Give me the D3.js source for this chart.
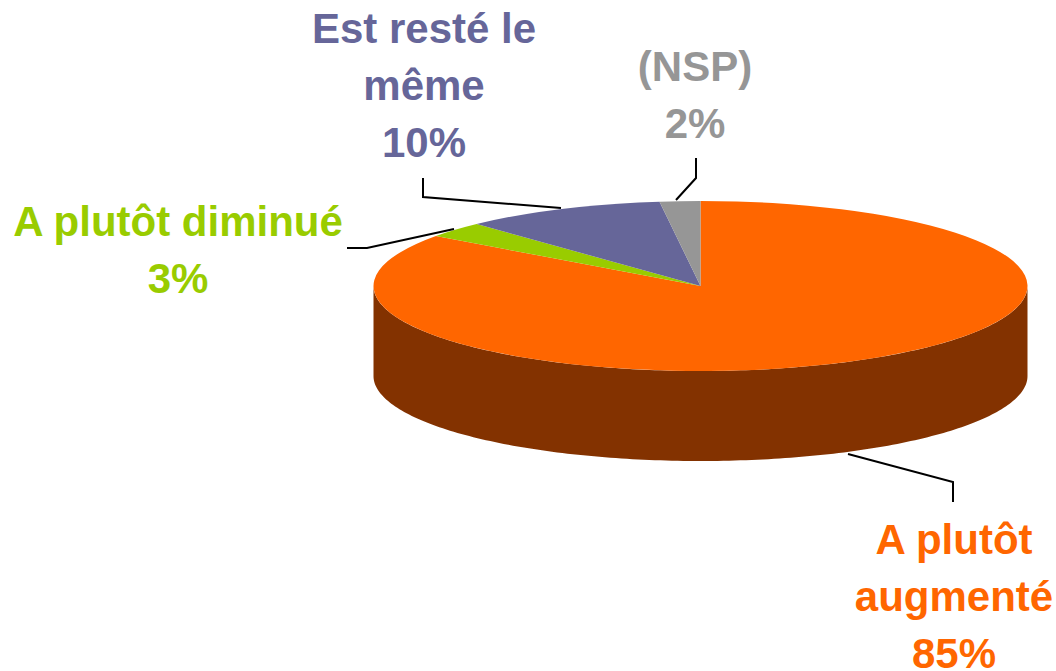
<!DOCTYPE html>
<html><head><meta charset="utf-8">
<script src="https://cdn.jsdelivr.net/npm/d3@7/dist/d3.min.js"></script>
<style>html,body{margin:0;background:#fff}svg{display:block}text{font-family:"Liberation Sans",Arial,sans-serif;font-weight:700;font-size:42px;text-anchor:middle}</style>
</head><body><svg id="c" width="1056" height="671"></svg>
<script>
const categories = ["A plutôt augmenté","A plutôt diminué","Est resté le même","(NSP)"];
const values = [85,3,10,2];
const colors = ["#ff6600","#99cc00","#666699","#969696"];
const labelLines = [["A plutôt","augmenté","85%"],["A plutôt diminué","3%"],["Est resté le","même","10%"],["(NSP)","2%"]];
const labelAnchors = [[954,554],[178,236],[424,43],[695,81]];
const leaders = [[[953,502],[953,482],[848,454]],[[347,248],[367,248],[454,229]],[[423,178],[423,197],[561,208]],[[696,158],[696,178],[676,200]]];

const cx=700.5, cy=286, rx=327, ry=85, depth=90;
const svg=d3.select("#c");
const side=d3.range(90,270.5,1).map(d=>d*Math.PI/180);
svg.append("path").attr("fill","#833200")
  .attr("d",d3.area().x(a=>cx+rx*Math.sin(a)).y0(a=>cy-ry*Math.cos(a)).y1(a=>cy-ry*Math.cos(a)+depth)(side));
const pie=d3.pie().sort(null).value(d=>d)(values);
const arc=d3.arc().innerRadius(0).outerRadius(rx);
svg.append("g").attr("transform",`translate(${cx},${cy}) scale(1,${ry/rx})`)
  .selectAll("path").data(pie).join("path").attr("d",arc).attr("fill",(d,i)=>colors[i]);
svg.append("g").selectAll("path").data(leaders).join("path")
  .attr("d",d3.line()).attr("fill","none").attr("stroke","#000").attr("stroke-width",2);
const lh=57;
labelLines.forEach((ls,i)=>{
  const t=svg.append("text").attr("fill",colors[i]);
  ls.forEach((s,j)=>t.append("tspan").attr("x",labelAnchors[i][0]).attr("y",labelAnchors[i][1]+j*lh).text(s));
});
</script></body></html>
